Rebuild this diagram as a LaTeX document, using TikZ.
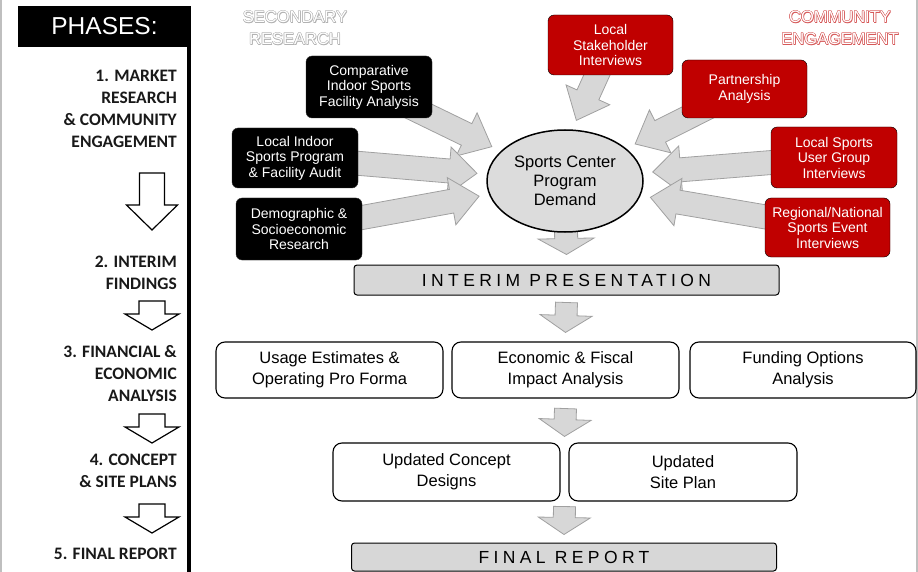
\documentclass[tikz,border=0pt]{standalone}
\usepackage{fontspec}
\setmainfont{Liberation Sans}
\newfontfamily\phasefont{Carlito}
\newfontfamily\spacedfont[LetterSpace=25]{Liberation Sans}
\usetikzlibrary{shapes.geometric,calc,backgrounds}

\definecolor{boxred}{RGB}{192,0,0}
\definecolor{arrowgray}{RGB}{215,215,215}
\definecolor{arrowedge}{RGB}{160,160,160}
\definecolor{demandgray}{RGB}{220,220,220}

% hollow (outlined) letters: colour, text
\newcommand{\Hollow}[2]{\leavevmode\makebox[0pt][l]{\color{#1}%
  \rlap{\kern-.5pt#2}\rlap{\kern.5pt#2}\rlap{\raisebox{.5pt}{#2}}\rlap{\raisebox{-.5pt}{#2}}%
  \rlap{\kern-.35pt\raisebox{.35pt}{#2}}\rlap{\kern.35pt\raisebox{.35pt}{#2}}%
  \rlap{\kern-.35pt\raisebox{-.35pt}{#2}}\rlap{\kern.35pt\raisebox{-.35pt}{#2}}%
  \rlap{\kern.8pt\raisebox{-.8pt}{#2}}}%
  \textcolor{white}{#2}}

% block arrow: style, from, to, half shaft, half head, head length
\newcommand{\BlockArrow}[6]{%
  \coordinate (ba-h) at ($(#3)!#6pt!(#2)$);
  \path[#1] ($(#2)!#4pt!90:(#3)$) -- ($(ba-h)!#4pt!90:(#3)$) -- ($(ba-h)!#5pt!90:(#3)$) -- (#3)
    -- ($(ba-h)!#5pt!-90:(#3)$) -- ($(ba-h)!#4pt!-90:(#3)$) -- ($(#2)!#4pt!-90:(#3)$) -- cycle;}

\begin{document}
\begin{tikzpicture}[x=1pt,y=-1pt,
  blackbox/.style={draw=black!80, fill=black, text=white, rounded corners=6pt, align=center,
    inner sep=0pt, font=\fontsize{14}{15.5}\selectfont},
  redbox/.style={blackbox, draw=black, fill=boxred},
  whitebox/.style={draw=black, line width=1.1pt, rounded corners=9pt, align=center,
    minimum width=227pt, minimum height=56pt, inner sep=0pt, font=\fontsize{16.5}{21}\selectfont},
  barbox/.style={draw=black, line width=1pt, fill=arrowgray, rounded corners=3pt,
    minimum width=425pt, inner sep=0pt, font=\fontsize{17.5}{19}\spacedfont},
  grayarrow/.style={fill=arrowgray, draw=arrowedge, line width=0.8pt},
  openarrow/.style={fill=white, draw=black, line width=1.2pt},
  phasetext/.style={anchor=east, align=right, inner sep=0pt, text=black!90,
    font=\fontsize{17.5}{22}\phasefont\bfseries},
]
\useasboundingbox (0,0) rectangle (918,572);

% frame
\draw[gray!50, line width=1.5pt] (1,0) -- (1,572) (917,0) -- (917,572);

% phases column
\node[fill=black, text=white, minimum width=173pt, minimum height=41pt, inner sep=0pt,
  font=\fontsize{24.5}{27}\selectfont] (phases) at (104.5,26.5) {PHASES:};
\draw[line width=4pt] (189,46) -- (189,572);

\node[phasetext] (ph1) at (177,109) {1. MARKET\\RESEARCH\\\& COMMUNITY\\ENGAGEMENT};
\node[phasetext] (ph2) at (177,273) {2. INTERIM\\FINDINGS};
\node[phasetext] (ph3) at (177,374) {3. FINANCIAL \&\\ECONOMIC\\ANALYSIS};
\node[phasetext] (ph4) at (177,471) {4. CONCEPT\\\& SITE PLANS};
\node[phasetext] (ph5) at (177,554) {5. FINAL REPORT};

\BlockArrow{openarrow}{152,173}{152,230}{12.5}{25.5}{25}
\foreach \t in {301,414,504}{
  \BlockArrow{openarrow}{152,\t}{152,\t+29}{13}{27}{16}
}

% headings
\node[font=\fontsize{16.5}{22}\selectfont, align=center] (sechead) at (295,28)
  {\Hollow{gray!60}{SECONDARY}\\\Hollow{gray!60}{RESEARCH}};
\node[font=\fontsize{16.5}{22}\selectfont, align=center] (comhead) at (840,28)
  {\Hollow{boxred!65}{COMMUNITY}\\\Hollow{boxred!65}{ENGAGEMENT}};

% secondary research
\node[blackbox, minimum width=126pt, minimum height=62pt] (cmp) at (369,87) {Comparative\\Indoor Sports\\Facility Analysis};
\node[blackbox, minimum width=126pt, minimum height=60pt] (aud) at (295,158) {Local Indoor\\Sports Program\\\& Facility Audit};
\node[blackbox, minimum width=126pt, minimum height=62pt] (dmg) at (299,229) {Demographic \&\\Socioeconomic\\Research};

% community engagement
\node[redbox, minimum width=125pt, minimum height=60pt] (stk) at (610.5,45) {Local\\Stakeholder\\Interviews};
\node[redbox, minimum width=125pt, minimum height=58pt] (prt) at (744.5,89) {Partnership\\Analysis};
\node[redbox, minimum width=126pt, minimum height=61pt] (usr) at (834,157.5) {Local Sports\\User Group\\Interviews};
\node[redbox, minimum width=125pt, minimum height=59pt] (evt) at (827.5,227.5) {Regional/National\\Sports Event\\Interviews};

\node[ellipse, draw=black, line width=1.5pt, fill=demandgray, minimum width=156pt, minimum height=102pt,
  inner sep=0pt, align=center, font=\fontsize{16.5}{19}\selectfont] (demand) at (565,181)
  {Sports Center\\Program\\Demand};

\node[barbox, minimum height=30pt] (interim) at (566.5,280) {INTERIM PRESENTATION};

\node[whitebox] (usage) at (329.5,370) {Usage Estimates \&\\Operating Pro Forma};
\node[whitebox] (econ) at (565.5,370) {Economic \& Fiscal\\Impact Analysis};
\node[whitebox, minimum width=226pt] (fund) at (803,370) {Funding Options\\Analysis};

\node[whitebox, minimum height=58pt] (concept) at (446.5,472) {Updated Concept\\Designs};
\node[whitebox, minimum width=228pt, minimum height=58pt] (site) at (683,472) {Updated\\Site Plan};

\node[barbox, minimum height=28pt] (final) at (564,557) {FINAL REPORT};

% gray arrows
\coordinate (d1) at ([yshift=10pt]interim.north);
\coordinate (a1s) at ([yshift=-7pt]interim.south);
\coordinate (a1e) at ([yshift=9pt]econ.north);
\coordinate (a2s) at ([yshift=-10pt]econ.south);
\coordinate (mid4) at ($(concept.north east)!.5!(site.north west)$);
\coordinate (a2e) at ([yshift=6pt]mid4);
\coordinate (bot4) at ($(concept.south east)!.5!(site.south west)$);
\coordinate (a3s) at ([yshift=-5pt]bot4);
\coordinate (a3e) at ([yshift=8pt]final.north);

\begin{scope}[on background layer]
  \foreach \src/\ang in {cmp/155, aud/175, dmg/190, stk/82, prt/28, usr/6, evt/349}{
    \coordinate (tip) at ($(demand.\ang)!10pt!(\src.center)$);
    \BlockArrow{grayarrow}{\src.center}{tip}{12}{24}{28}
  }
  \BlockArrow{grayarrow}{demand.center}{d1}{11.5}{28}{16}
\end{scope}
\BlockArrow{grayarrow}{a1s}{a1e}{11}{26}{17}
\BlockArrow{grayarrow}{a2s}{a2e}{11}{26}{17}
\BlockArrow{grayarrow}{a3s}{a3e}{11}{26}{17}

\end{tikzpicture}
\end{document}
